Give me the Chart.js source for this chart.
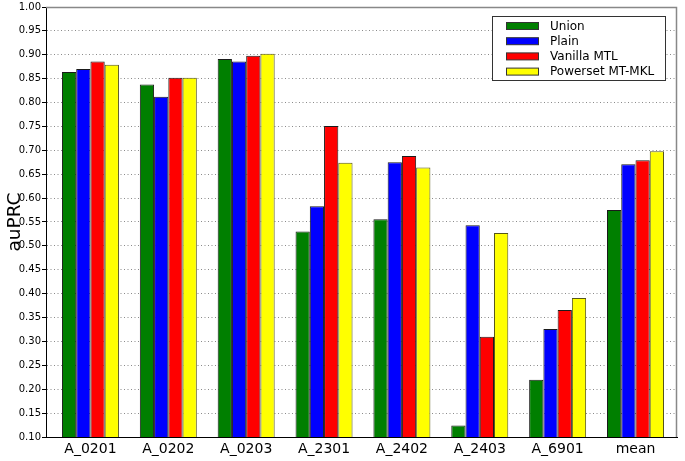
<!DOCTYPE html>
<html>
<head>
<meta charset="utf-8">
<script src="https://cdn.jsdelivr.net/npm/chart.js@4/dist/chart.umd.min.js"></script>
<style>
  html, body { margin: 0; padding: 0; background: #fff; }
  #wrap { width: 685px; height: 461px; }
</style>
</head>
<body>
<div id="wrap"><canvas id="c"></canvas></div>
<script>
// auPRC per allele, 4 methods
var categories = ['A_0201', 'A_0202', 'A_0203', 'A_2301', 'A_2402', 'A_2403', 'A_6901', 'mean'];
var union   = [0.864, 0.838, 0.891, 0.530, 0.556, 0.124, 0.220, 0.575];
var plain   = [0.870, 0.812, 0.886, 0.583, 0.675, 0.543, 0.326, 0.671];
var vanilla = [0.886, 0.852, 0.898, 0.751, 0.688, 0.310, 0.366, 0.679];
var powerset = [0.879, 0.852, 0.902, 0.674, 0.664, 0.527, 0.391, 0.698];
var seriesNames = ['Union', 'Plain', 'Vanilla MTL', 'Powerset MT-MKL'];
var yTicks = { min: 0.10, max: 1.00, step: 0.05 };

var FONT = "'DejaVu Sans', sans-serif";
var COLORS = ['#007f00', '#0000ff', '#ff0000', '#ffff00'];

function pts(arr) {
  return arr.map(function(v, i) { return { x: i, y: v }; });
}

// legend box inside the plot + grey top/right frame
var legendPlugin = {
  id: 'boxLegend',
  afterDraw: function(chart) {
    var ctx = chart.ctx;
    var area = chart.chartArea;
    var bx = 492, by = 16, bw = 173, bh = 64;
    ctx.save();
    ctx.strokeStyle = '#888';
    ctx.lineWidth = 1.5;
    ctx.beginPath();
    ctx.moveTo(area.left, area.top + 0.5);
    ctx.lineTo(area.right - 0.5, area.top + 0.5);
    ctx.lineTo(area.right - 0.5, area.bottom);
    ctx.stroke();
    ctx.fillStyle = '#fff';
    ctx.fillRect(bx, by, bw, bh);
    ctx.strokeStyle = '#333';
    ctx.lineWidth = 1;
    ctx.strokeRect(bx + 0.5, by + 0.5, bw, bh);
    ctx.font = '12px ' + FONT;
    ctx.textBaseline = 'middle';
    chart.data.datasets.forEach(function(ds, i) {
      var cy = by + 10 + i * 15.2;
      ctx.fillStyle = ds.backgroundColor;
      ctx.fillRect(bx + 14, cy - 3.5, 32, 7);
      ctx.strokeStyle = '#333';
      ctx.strokeRect(bx + 14.5, cy - 3.5, 32, 7);
      ctx.fillStyle = '#000';
      ctx.fillText(ds.label, bx + 58, cy + 0.5);
    });
    ctx.restore();
  }
};

var datasets = [union, plain, vanilla, powerset].map(function(arr, i) {
  return {
    label: seriesNames[i],
    data: pts(arr),
    backgroundColor: COLORS[i],
    borderColor: i === 3 ? '#55551a' : '#1a1a1a',
    borderWidth: 1,
    categoryPercentage: 0.732,
    barPercentage: 1.0
  };
});

new Chart(document.getElementById('c').getContext('2d'), {
  type: 'bar',
  data: { datasets: datasets },
  options: {
    responsive: true, maintainAspectRatio: false, animation: false,
    layout: { padding: { top: 7, right: 8, left: 0, bottom: 0 } },
    plugins: { legend: { display: false }, tooltip: { enabled: false } },
    scales: {
      x: {
        type: 'linear', offset: false,
        min: -0.571, max: 7.533,
        afterBuildTicks: function(scale) {
          scale.ticks = categories.map(function(c, i) { return { value: i }; });
        },
        afterFit: function(scale) { scale.height = 24; },
        grid: { display: false, drawTicks: false, offset: false },
        border: { display: true, color: '#000', width: 1 },
        ticks: {
          padding: 4, color: '#000', maxRotation: 0, autoSkip: false,
          font: { family: FONT, size: 14 },
          callback: function(v) { return categories[v]; }
        }
      },
      y: {
        min: yTicks.min, max: yTicks.max,
        afterFit: function(scale) { scale.width = 46; },
        grid: {
          color: '#8a8a8a', lineWidth: 1, tickLength: 4,
          drawTicks: true, tickColor: '#000', tickWidth: 1
        },
        border: { display: true, color: '#000', width: 1, dash: [1, 2.5] },
        ticks: {
          stepSize: yTicks.step, padding: 1, color: '#000',
          font: { family: FONT, size: 10 },
          callback: function(v) { return v.toFixed(2); }
        },
        title: {
          display: true, text: 'auPRC', color: '#000',
          font: { family: FONT, size: 18.5, lineHeight: 1 },
          padding: { top: 6, bottom: 0 }
        }
      }
    }
  },
  plugins: [legendPlugin]
});
</script>
</body>
</html>
